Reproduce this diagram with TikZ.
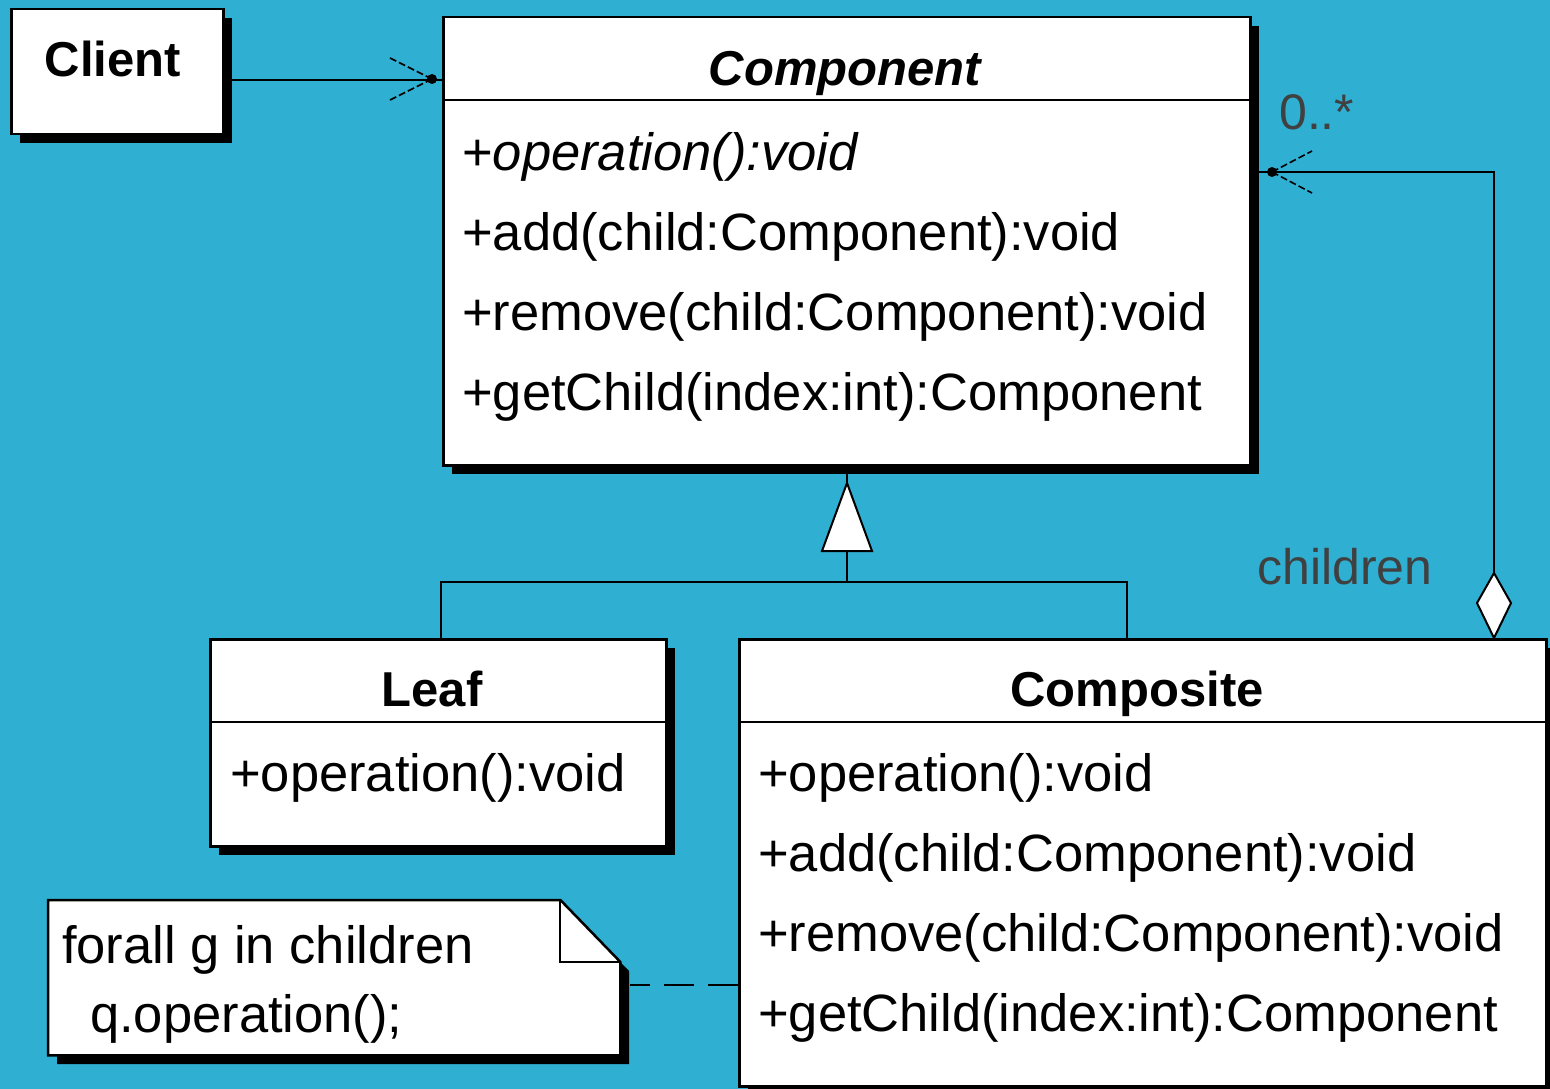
\documentclass[tikz,border=0pt]{standalone}
\usepackage{fontspec}
\setmainfont{Liberation Sans}
\usetikzlibrary{shadows}
\definecolor{bg}{RGB}{47,176,210}
\begin{document}
\begin{tikzpicture}[x=1pt,y=-1pt,
  box/.style={draw=black, line width=2.5pt, fill=white, anchor=north west, inner sep=0pt,
    drop shadow={shadow xshift=9pt, shadow yshift=-9pt, fill=black, opacity=1}},
  ttl/.style={anchor=base, inner sep=0pt, font=\bfseries\fontsize{49}{50}\selectfont},
  op/.style={anchor=base west, inner sep=0pt, font=\fontsize{52.5}{53}\selectfont},
  lbl/.style={anchor=base west, inner sep=0pt, text=black!75, font=\fontsize{50}{51}\selectfont},
  conn/.style={line width=2pt, draw=black},
  headline/.style={line width=1.6pt, dash pattern=on 7pt off 3pt},
]
% background
\fill[bg] (0,0) rectangle (1550,1089);
\useasboundingbox (0,0) rectangle (1550,1089);

% ---------- Client ----------
\node[box, minimum width=212pt, minimum height=125pt] (client) at (10,8) {};
\node[ttl] (clientname) at (113,77) {Client};

% ---------- Component ----------
\node[box, minimum width=807pt, minimum height=448pt] (component) at (442,16) {};
\draw[line width=2.5pt] (442,100) -- (1249,100);
\node[ttl, font=\bfseries\itshape\fontsize{49}{50}\selectfont] (compname) at (845,86) {Component};
\node[op] (c1) at (462,170) {+\textit{operation():void}};
\node[op] (c2) at (462,250) {+add(child:Component):void};
\node[op] (c3) at (462,330) {+remove(child:Component):void};
\node[op] (c4) at (462,410) {+getChild(index:int):Component};

% ---------- Leaf ----------
\node[box, minimum width=456pt, minimum height=207pt] (leaf) at (209,638) {};
\draw[line width=2.5pt] (209,722) -- (665,722);
\node[ttl] (leafname) at (432,706) {Leaf};
\node[op] (l1) at (230,791) {+operation():void};

% ---------- Composite ----------
\node[box, minimum width=807pt, minimum height=447pt] (composite) at (738,638) {};
\draw[line width=2.5pt] (738,722) -- (1545,722);
\node[ttl] (compositename) at (1137,706) {Composite};
\node[op] (k1) at (758,791) {+operation():void};
\node[op] (k2) at (758,871) {+add(child:Component):void};
\node[op] (k3) at (758,951) {+remove(child:Component):void};
\node[op] (k4) at (758,1031) {+getChild(index:int):Component};

% ---------- Note ----------
\node[anchor=north west, inner sep=0pt, minimum width=572pt, minimum height=155pt] (note) at (48,900) {};
\begin{scope}[shift={(9,9)}]
  \fill[black] (48,900) -- (560,900) -- (620,962) -- (620,1055) -- (48,1055) -- cycle;
\end{scope}
\filldraw[fill=white, draw=black, line width=2.5pt]
  (note.north west) -- ([xshift=-60pt]note.north east) -- ([yshift=-62pt]note.north east)
  -- (note.south east) -- (note.south west) -- cycle;
\draw[line width=2pt] ([xshift=-60pt]note.north east) -- ([xshift=-60pt,yshift=-62pt]note.north east)
  -- ([yshift=-62pt]note.north east);
\node[op] (n1) at (62,963) {forall g in children};
\node[op] (n2) at (90,1032) {q.operation();};

% ---------- connectors ----------
% Client -> Component (navigable association)
\coordinate (cy) at (0,80);
\coordinate (clientport) at (client.east |- cy);
\coordinate (comport) at (component.west |- cy);
\draw[conn] (clientport) -- (comport);
\coordinate (tipA) at (432,79);
\draw[headline] (tipA) -- ++(-44,-22);
\draw[headline] (tipA) -- ++(-44,22);
\fill (tipA) circle (5pt);

% Composite -> Component (aggregation)
\coordinate (dtop) at (1494,573);
\coordinate (dbot) at (composite.north west -| dtop);
\coordinate (aggcorner) at (1494,172);
\coordinate (tipB) at (1272,172);
\draw[conn] (dtop) -- (aggcorner) -- (1259,172);
\filldraw[fill=white, draw=black, line width=2pt] (dbot) -- (1511,603) -- (dtop) -- (1477,603) -- cycle;
\draw[headline] (tipB) -- ++(40,-21);
\draw[headline] (tipB) -- ++(40,21);
\fill (tipB) circle (5pt);
\node[lbl] (mult) at (1279,130) {0..*};
\node[lbl] (role) at (1257,584) {children};

% Generalization
\coordinate (apex) at (847,483);
\coordinate (gtop) at (component.south -| apex);
\coordinate (gbase) at (847,551);
\coordinate (gjoin) at (847,582);
\coordinate (gleft) at (441,582);
\coordinate (gright) at (1127,582);
\draw[conn] (gtop) -- (apex);
\draw[conn] (gbase) -- (gjoin);
\draw[conn] (leaf.north west -| gleft) -- (gleft) -- (gright) -- (composite.north west -| gright);
\filldraw[fill=white, draw=black, line width=2pt] (apex) -- (872,551) -- (822,551) -- cycle;

% Note -> Composite dashed anchor
\coordinate (ny) at (0,985);
\draw[conn, dash pattern=on 30pt off 14pt] (composite.west |- ny) -- ([xshift=10pt]note.east |- ny);
\end{tikzpicture}
\end{document}
